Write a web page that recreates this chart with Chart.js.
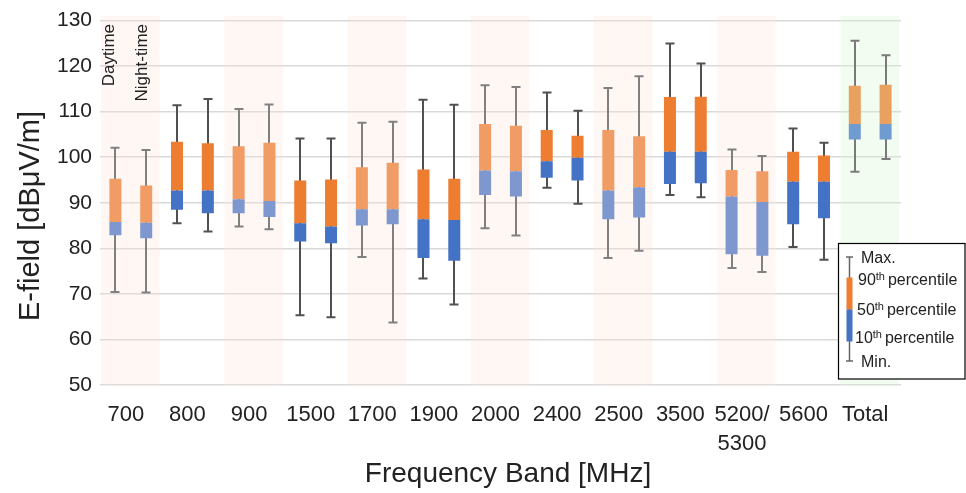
<!DOCTYPE html>
<html>
<head>
<meta charset="utf-8">
<script src="https://cdn.jsdelivr.net/npm/chart.js@4"></script>
<style>
  html, body { margin: 0; padding: 0; background: #fff; }
  #wrap { width: 966px; height: 493px; position: relative; }
</style>
</head>
<body>
<div id="wrap"><canvas id="myChart" width="966" height="493"></canvas></div>
<script>
// bandas de frecuencia
const categorias = ['700', '800', '900', '1500', '1700', '1900', '2000', '2400', '2500', '3500', ['5200/', '5300'], '5600', 'Total'];
const yTicks = [50, 60, 70, 80, 90, 100, 110, 120, 130];

// Daytime
const dayMax = [102.1, 111.4, 110.6, 104.1, 107.6, 112.6, 115.8, 114.2, 115.2, 125.0, 101.7, 106.3, 125.6];
const dayP90 = [95.3, 103.4, 102.4, 94.9, 97.8, 97.3, 107.3, 106.0, 106.0, 113.2, 97.2, 101.2, 115.7];
const dayP50 = [85.8, 92.7, 90.8, 85.5, 88.6, 86.4, 97.1, 99.1, 92.7, 101.2, 91.4, 94.6, 107.3];
const dayP10 = [82.9, 88.5, 87.7, 81.5, 85.0, 77.9, 91.7, 95.5, 86.4, 94.1, 78.7, 85.3, 103.9];
const dayMin = [70.4, 85.5, 84.8, 65.3, 78.1, 73.4, 84.4, 93.3, 77.9, 91.7, 75.7, 80.3, 96.8];

// Night-time
const nightMax = [101.6, 112.8, 111.6, 104.1, 107.8, 111.5, 115.4, 110.2, 117.8, 120.6, 100.3, 103.2, 122.4];
const nightP90 = [93.8, 103.1, 103.2, 95.1, 98.8, 95.3, 106.9, 104.7, 104.6, 113.3, 96.9, 100.4, 115.9];
const nightP50 = [85.6, 92.7, 90.4, 84.8, 88.6, 86.2, 96.9, 99.9, 93.4, 101.2, 90.2, 94.6, 107.3];
const nightP10 = [82.2, 87.7, 86.9, 81.1, 85.3, 77.3, 91.4, 94.9, 86.8, 94.3, 78.4, 86.6, 103.9];
const nightMin = [70.3, 83.7, 84.2, 64.9, 63.7, 67.7, 82.8, 89.8, 79.5, 91.2, 74.8, 77.5, 99.6];

// estilo por banda: 1 = sombreado claro, 0 = oscuro, 2 = total
const estilo = [1, 0, 1, 0, 1, 0, 1, 0, 1, 0, 1, 0, 2];

const naranja = ['#ED7D31', '#F19C65', '#E9A15F'];
const azul = ['#4472C4', '#7E97CF', '#6F9BD1'];
const bigote = ['#505050', '#808080', '#7a7a7a'];
const fondo = [null, 'rgba(250,225,215,0.28)', 'rgba(215,245,205,0.3)'];

const colAzul = estilo.map(e => azul[e]);
const colNaranja = estilo.map(e => naranja[e]);

const FONT = "'Liberation Sans', Arial, sans-serif";

// sombreado de columnas + bigotes
const bandasPlugin = {
    id: 'bandas',
    beforeDatasetsDraw(chart) {
        const { ctx, chartArea, scales: { x } } = chart;
        const w = x.width / categorias.length;
        ctx.save();
        estilo.forEach((e, i) => {
            if (!fondo[e]) return;
            const cx = x.getPixelForValue(i);
            ctx.fillStyle = fondo[e];
            ctx.fillRect(cx - w / 2 + 1, chartArea.top - 5, w - 3, chartArea.bottom - chartArea.top + 5);
        });
        ctx.restore();

        const y = chart.scales.y;
        const grupos = [
            { meta: chart.getDatasetMeta(0), min: dayMin, max: dayMax },
            { meta: chart.getDatasetMeta(2), min: nightMin, max: nightMax }
        ];
        ctx.save();
        ctx.lineWidth = 2;
        grupos.forEach(g => {
            g.meta.data.forEach((bar, i) => {
                const px = Math.round(bar.x);
                const y1 = y.getPixelForValue(g.min[i]);
                const y2 = y.getPixelForValue(g.max[i]);
                ctx.strokeStyle = bigote[estilo[i]];
                ctx.beginPath();
                ctx.moveTo(px, y1); ctx.lineTo(px, y2);
                ctx.moveTo(px - 4.5, y1); ctx.lineTo(px + 4.5, y1);
                ctx.moveTo(px - 4.5, y2); ctx.lineTo(px + 4.5, y2);
                ctx.stroke();
            });
        });
        ctx.restore();
    },
    afterDraw(chart) {
        const { ctx } = chart;
        // titulos de ejes
        ctx.save();
        ctx.fillStyle = '#222';
        ctx.textAlign = 'center';
        ctx.textBaseline = 'middle';
        ctx.font = '28px ' + FONT;
        ctx.fillText('Frequency Band [MHz]', 508, 474);
        ctx.translate(31, 216);
        ctx.rotate(-Math.PI / 2);
        ctx.font = '29px ' + FONT;
        ctx.fillText('E-field [dBμV/m]', 0, 0);
        ctx.restore();

        // Daytime / Night-time
        const metaD = chart.getDatasetMeta(0), metaN = chart.getDatasetMeta(2);
        ctx.save();
        ctx.fillStyle = '#222';
        ctx.font = '17px ' + FONT;
        ctx.textAlign = 'right';
        ctx.textBaseline = 'middle';
        [[metaD.data[0].x - 6, 'Daytime'], [metaN.data[0].x - 4, 'Night-time']].forEach(([px, t]) => {
            ctx.save();
            ctx.translate(px, 24);
            ctx.rotate(-Math.PI / 2);
            ctx.fillText(t, 0, 0);
            ctx.restore();
        });
        ctx.restore();

        // leyenda
        ctx.save();
        ctx.fillStyle = '#fff';
        ctx.fillRect(838, 243, 127, 136);
        ctx.strokeStyle = '#000';
        ctx.lineWidth = 1.2;
        ctx.strokeRect(838.5, 243.5, 126.5, 135.5);
        const lx = 849.5;
        ctx.strokeStyle = '#666';
        ctx.lineWidth = 1.5;
        ctx.beginPath();
        ctx.moveTo(lx, 257); ctx.lineTo(lx, 361);
        ctx.moveTo(lx - 3.5, 257); ctx.lineTo(lx + 3.5, 257);
        ctx.moveTo(lx - 3.5, 361); ctx.lineTo(lx + 3.5, 361);
        ctx.stroke();
        ctx.fillStyle = naranja[0];
        ctx.fillRect(lx - 3, 277.5, 6, 32);
        ctx.fillStyle = azul[0];
        ctx.fillRect(lx - 3, 309.5, 6, 32);

        ctx.fillStyle = '#222';
        ctx.textBaseline = 'middle';
        ctx.textAlign = 'left';
        ctx.font = '16px ' + FONT;
        ctx.fillText('Max.', 861, 259);
        ctx.fillText('Min.', 861, 363);
        [['90', 858, 281], ['50', 857, 311], ['10', 855, 339]].forEach(([n, px, py]) => {
            ctx.font = '16px ' + FONT;
            ctx.fillText(n, px, py);
            let w = ctx.measureText(n).width;
            ctx.font = '11px ' + FONT;
            ctx.fillText('th', px + w, py - 4);
            w += ctx.measureText('th').width + 3;
            ctx.font = '16px ' + FONT;
            ctx.fillText('percentile', px + w, py);
        });
        ctx.restore();
    }
};

const ctx = document.getElementById('myChart');

new Chart(ctx, {
    type: 'bar',
    data: {
        labels: categorias,
        datasets: [
            { label: 'Daytime 10-50', data: categorias.map((_, i) => [dayP10[i], dayP50[i]]), backgroundColor: colAzul, stack: 'day' },
            { label: 'Daytime 50-90', data: categorias.map((_, i) => [dayP50[i], dayP90[i]]), backgroundColor: colNaranja, stack: 'day' },
            { label: 'Night-time 10-50', data: categorias.map((_, i) => [nightP10[i], nightP50[i]]), backgroundColor: colAzul, stack: 'night' },
            { label: 'Night-time 50-90', data: categorias.map((_, i) => [nightP50[i], nightP90[i]]), backgroundColor: colNaranja, stack: 'night' }
        ]
    },
    options: {
        responsive: false,
        animation: false,
        layout: { padding: { top: 19, right: 65, left: 0, bottom: 0 } },
        datasets: { bar: { categoryPercentage: 1, barPercentage: 0.39 } },
        plugins: { legend: { display: false }, tooltip: { enabled: false } },
        scales: {
            x: {
                stacked: true,
                grid: { display: false },
                border: { display: false },
                ticks: { color: '#222', font: { family: FONT, size: 22, lineHeight: 1.3 }, padding: 8, labelOffset: -5, maxRotation: 0, autoSkip: false },
                afterFit: s => { s.height = 108; }
            },
            y: {
                stacked: false,
                min: 50,
                max: 130,
                afterBuildTicks: s => { s.ticks = yTicks.map(v => ({ value: v })); },
                grid: { color: '#d9d9d9', lineWidth: 1.5, drawTicks: false },
                border: { display: false },
                ticks: { color: '#222', font: { family: FONT, size: 21 }, padding: 8 },
                afterFit: s => { s.width = 100; }
            }
        }
    },
    plugins: [bandasPlugin]
});
</script>
</body>
</html>
